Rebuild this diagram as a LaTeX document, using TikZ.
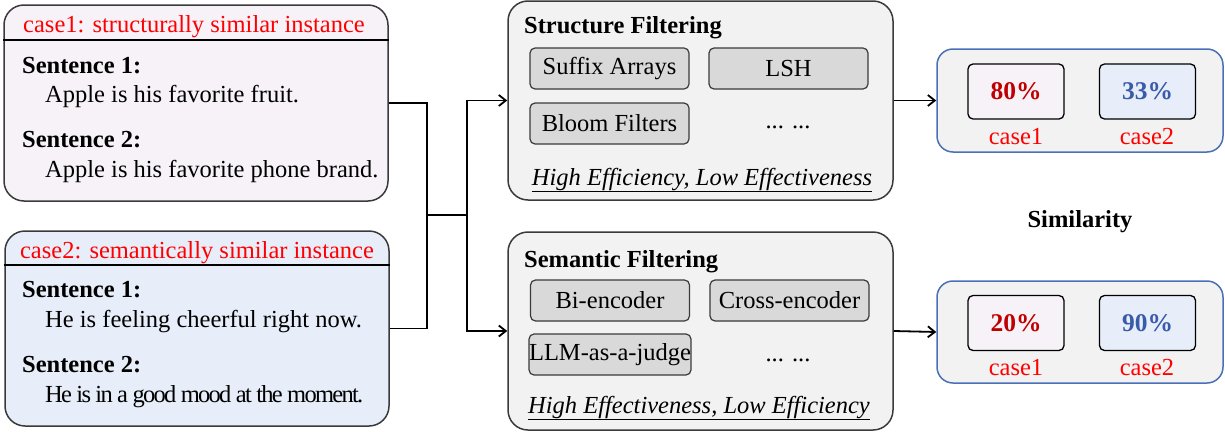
\documentclass[tikz,border=0pt]{standalone}
\usepackage{fontspec}
\setmainfont{Liberation Serif}
\usetikzlibrary{arrows.meta}
\definecolor{caseonefill}{HTML}{F6F2F8}
\definecolor{casetwofill}{HTML}{E7EEF9}
\definecolor{filterfill}{HTML}{F2F2F2}
\definecolor{techfill}{HTML}{D9D9D9}
\definecolor{boxline}{HTML}{3A3A3A}
\definecolor{pctred}{HTML}{C00000}
\definecolor{pctblue}{HTML}{3A5BAA}
\definecolor{simline}{HTML}{4A70B8}
\definecolor{labred}{HTML}{FF0000}
\newcommand{\fsz}{\fontsize{24.5}{29}\selectfont}
\tikzset{
  x=1pt, y=-1pt,
  every node/.style={font=\fsz},
  casebox/.style={draw=boxline, line width=1.5pt, rounded corners=20pt, minimum width=384pt, inner sep=0pt},
  filterbox/.style={draw=boxline, line width=1.5pt, fill=filterfill, rounded corners=20pt, minimum width=385pt, inner sep=0pt},
  techbox/.style={draw=boxline, line width=1.2pt, fill=techfill, rounded corners=5pt, minimum width=159pt, minimum height=41pt, inner sep=0pt},
  simbox/.style={draw=simline, line width=1.5pt, fill=filterfill, rounded corners=16pt, minimum width=286pt, inner sep=0pt},
  pctbox/.style={draw=black, line width=1.3pt, rounded corners=5pt, minimum width=96pt, minimum height=55pt, inner sep=0pt, font=\fontsize{25.5}{29}\selectfont\bfseries},
  txt/.style={inner sep=0pt, anchor=base west},
  btxt/.style={txt, font=\fsz\bfseries},
  ctxt/.style={inner sep=0pt, anchor=base},
  conn/.style={line width=1.8pt, black},
  arr/.style={conn, -{Straight Barb[length=7pt, width=11pt]}},
  caselab/.style={inner sep=0pt, text=labred},
}
\begin{document}
\begin{tikzpicture}
\useasboundingbox (0,0) rectangle (1225,431);
% case boxes
\node[casebox, fill=caseonefill, minimum height=196pt] (case1) at (196,103) {};
\node[casebox, fill=casetwofill, minimum height=195pt] (case2) at (197,328.5) {};
\draw[line width=2.8pt] (case1.west |- {(0,40)}) -- (case1.east |- {(0,40)});
\draw[line width=2.8pt] (case2.west |- {(0,265)}) -- (case2.east |- {(0,265)});
\node[ctxt, text=labred] (h1) at (194,32) {case1: structurally similar instance};
\node[btxt] (c1s1) at (22,73) {Sentence 1:};
\node[txt] (c1t1) at (45,102) {Apple is his favorite fruit.};
\node[btxt] (c1s2) at (22,147) {Sentence 2:};
\node[txt] (c1t2) at (45,177) {Apple is his favorite phone brand.};
\node[ctxt, text=labred] (h2) at (197,258) {case2: semantically similar instance};
\node[btxt] (c2s1) at (22,297) {Sentence 1:};
\node[txt] (c2t1) at (45,327) {He is feeling cheerful right now.};
\node[btxt] (c2s2) at (22,372) {Sentence 2:};
\node[txt] (c2t2) at (45,402) {\addfontfeature{LetterSpace=-7}He is in a good mood at the moment.};
% filter boxes
\node[filterbox, minimum height=199pt] (sf) at (700.5,100.5) {};
\node[filterbox, minimum height=198pt] (sem) at (700.5,331) {};
\node[btxt] (sft) at (524,33) {Structure Filtering};
\node[techbox] (sa) at (609.5,68.5) {Suffix Arrays};
\node[techbox] (lsh) at (788.5,68.5) {LSH};
\node[techbox] (bf) at (609.5,123.5) {Bloom Filters};
\node[inner sep=0pt] (d1) at (788,127) {... ...};
\node[ctxt] (e1) at (702,185) {\underline{\textit{High Efficiency, Low Effectiveness}}};
\node[btxt] (semt) at (524,267) {Semantic Filtering};
\node[techbox] (bi) at (610,300.5) {Bi-encoder};
\node[techbox] (ce) at (789.5,300.5) {Cross-encoder};
\node[techbox] (llm) at (610,354.5) {LLM-as-a-judge};
\node[inner sep=0pt] (d2) at (788,360) {... ...};
\node[ctxt] (e2) at (699,413) {\underline{\textit{High Effectiveness, Low Efficiency}}};
% similarity boxes
\node[simbox, minimum height=103pt] (sim1) at (1080,100.5) {};
\node[simbox, minimum height=102pt] (sim2) at (1080,332) {};
\node[pctbox, fill=caseonefill, text=pctred] (p80) at (1016,91.5) {80\%};
\node[pctbox, fill=casetwofill, text=pctblue] (p33) at (1147.5,91.5) {33\%};
\node[caselab] (l11) at (1016,137) {case1};
\node[caselab] (l12) at (1147,137) {case2};
\node[pctbox, fill=caseonefill, text=pctred] (p20) at (1016,323) {20\%};
\node[pctbox, fill=casetwofill, text=pctblue] (p90) at (1147.5,323) {90\%};
\node[caselab] (l21) at (1016,368) {case1};
\node[caselab] (l22) at (1147,368) {case2};
\node[inner sep=0pt, font=\fsz\bfseries] (simlab) at (1080,222) {Similarity};
% connectors
\coordinate (j1) at (427,215);
\coordinate (j2) at (467,215);
\draw[conn] (case1.east) -| (j1);
\draw[conn] (case2.east) -| (j1);
\draw[conn] (j1) -- (j2);
\draw[arr] (j2) |- (sf.west);
\draw[arr] (j2) |- (sem.west);
\draw[arr] (sf.east) -- (sim1.west);
\draw[arr] (sem.east) -- (sim2.west);
\end{tikzpicture}
\end{document}
